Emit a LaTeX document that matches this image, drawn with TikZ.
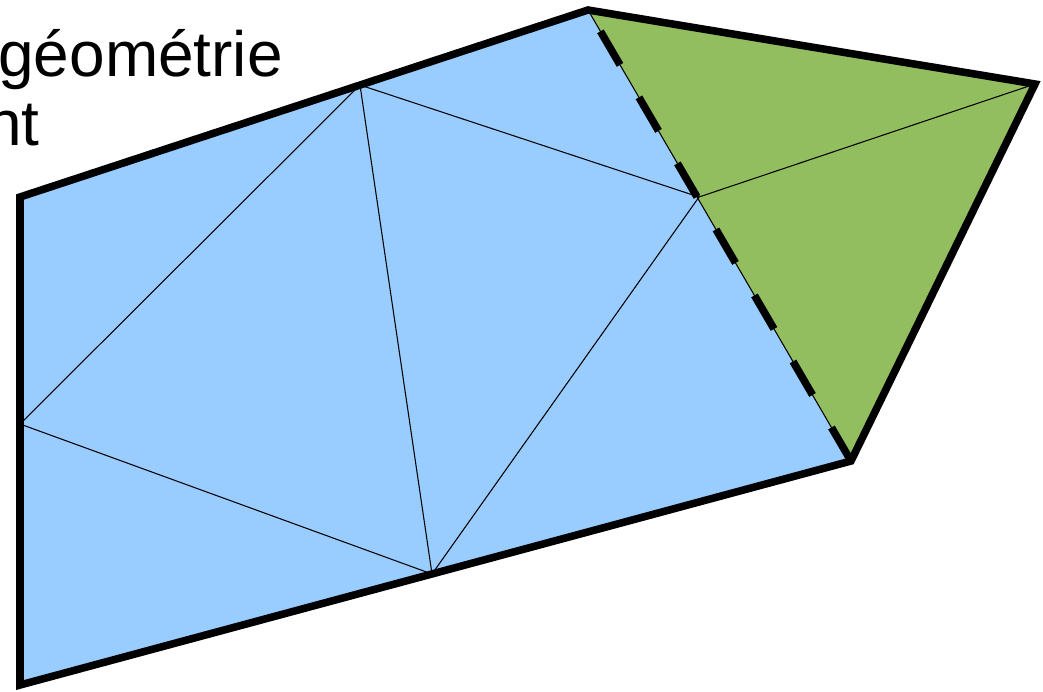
\documentclass[tikz,border=0pt]{standalone}
\usepackage{fontspec}
\setmainfont{Liberation Sans}
\definecolor{meshblue}{RGB}{153,204,255}
\definecolor{meshgreen}{RGB}{147,190,95}

\begin{document}
\begin{tikzpicture}[x=0.02cm,y=-0.02cm,
  edge/.style={line width=0.6pt},
  border/.style={line width=4.3pt},
  cut/.style={line width=4.3pt,dash pattern=on 22.1pt off 21.4pt},
  label/.style={anchor=base west,inner sep=0pt,font=\fontsize{36.4}{40}\selectfont}]
\useasboundingbox (0,0) rectangle (1043,691);
\coordinate (A) at (20,197);
\coordinate (B) at (360,85);
\coordinate (C) at (588,10);
\coordinate (D) at (1035,84);
\coordinate (E) at (851,461);
\coordinate (F) at (432,574);
\coordinate (G) at (20,685);
\coordinate (H) at (20,424);
\coordinate (I) at (699,197);
% two regions
\fill[meshblue]  (A) -- (C) -- (E) -- (G) -- cycle;
\fill[meshgreen] (C) -- (D) -- (E) -- cycle;
% inner edges
\draw[edge] (H) -- (B) -- (F) -- cycle;
\draw[edge] (B) -- (I) -- (F);
\draw[edge] (I) -- (D);
\draw[edge] (C) -- (E);
\draw[cut] (E) -- (C);
\draw[border] (G) -- (A) -- (C) -- (D) -- (E) -- cycle;
\node[label] (title) at (-2,76)  {géométrie};
\node[label] (sub)   at (-14,145) {nt};
\end{tikzpicture}
\end{document}
